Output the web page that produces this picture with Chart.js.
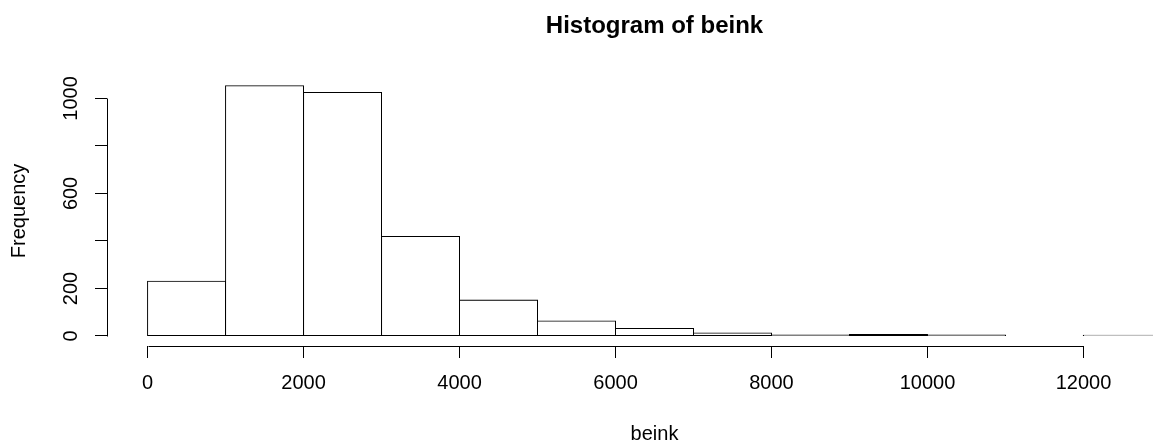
<!DOCTYPE html>
<html>
<head>
<meta charset="utf-8">
<title>Histogram of beink</title>
<script src="https://cdn.jsdelivr.net/npm/chart.js@4.4.1/dist/chart.umd.min.js"></script>
<style>
    html, body { margin: 0; padding: 0; background: #ffffff; overflow: hidden; }
    #wrap { width: 1153px; height: 443px; overflow: hidden; position: relative; }
    #histChart { display: block; }
</style>
</head>
<body>
<div id="wrap">
    <canvas id="histChart" width="1309" height="443"></canvas>
</div>
<script>
// Histogram bins (lower edges, width 1000) and counts
const binStarts = [0, 1000, 2000, 3000, 4000, 5000, 6000, 7000, 8000, 9000, 10000, 11000, 12000];
const binWidth = 1000;
const counts = [230, 1053, 1025, 419, 151, 63, 32, 13, 4, 6, 4, 2, 3];

// Axis ticks and labels
const xTicks = [0, 2000, 4000, 6000, 8000, 10000, 12000];
const xTickLabels = ['0', '2000', '4000', '6000', '8000', '10000', '12000'];
const yTicks = [0, 200, 400, 600, 800, 1000];
const yTickLabels = ['0', '200', '', '600', '', '1000'];

const chartTitle = 'Histogram of beink';
const xTitle = 'beink';
const yTitle = 'Frequency';

const fontFamily = '"Liberation Sans", Arial, Helvetica, sans-serif';

// R style ranges: 4% extra on each side
const xLow = binStarts[0];
const xHigh = binStarts[binStarts.length - 1] + binWidth;
const xPad = (xHigh - xLow) * 0.04;
const yHigh = Math.max(...counts);
const yPad = yHigh * 0.04;

// Axis lines only between first and last tick, like R's axis()
const rAxisLines = {
    id: 'rAxisLines',
    afterDraw(chart) {
        const ctx = chart.ctx;
        const x = chart.scales.x;
        const y = chart.scales.y;
        const area = chart.chartArea;
        ctx.save();
        ctx.strokeStyle = '#000000';
        ctx.lineWidth = 1;
        ctx.beginPath();
        ctx.moveTo(Math.round(x.getPixelForValue(xTicks[0])) + 0.5, Math.round(area.bottom) + 0.5);
        ctx.lineTo(Math.round(x.getPixelForValue(xTicks[xTicks.length - 1])) + 0.5, Math.round(area.bottom) + 0.5);
        ctx.moveTo(Math.round(area.left) + 0.5, Math.round(y.getPixelForValue(yTicks[0])) + 0.5);
        ctx.lineTo(Math.round(area.left) + 0.5, Math.round(y.getPixelForValue(yTicks[yTicks.length - 1])) + 0.5);
        ctx.stroke();
        ctx.restore();
    }
};

const createHistChart = () => {
    const ctx = document.getElementById('histChart').getContext('2d');

    // Bars centred in their bins
    const barData = [];
    for (let i = 0; i < binStarts.length; i++) {
        barData.push({ x: binStarts[i] + binWidth / 2, y: counts[i] });
    }

    new Chart(ctx, {
        type: 'bar',
        data: {
            datasets: [{
                data: barData,
                backgroundColor: 'rgba(255,255,255,0)',
                borderColor: '#000000',
                // thin inset border + inflate gives a 1px outline centred on the bin edge
                borderWidth: 0.01,
                inflateAmount: 0.5,
                borderSkipped: false,
                barPercentage: 1,
                categoryPercentage: 1,
                grouped: false
            }]
        },
        options: {
            responsive: false,
            animation: false,
            devicePixelRatio: 1,
            layout: {
                padding: { left: 0, right: 107, top: 0, bottom: 0 }
            },
            plugins: {
                legend: { display: false },
                tooltip: { enabled: false },
                title: {
                    display: true,
                    text: chartTitle,
                    fullSize: false,
                    color: '#000000',
                    font: { family: fontFamily, size: 24, weight: 'bold' },
                    padding: { top: 12, bottom: 35 }
                }
            },
            scales: {
                x: {
                    type: 'linear',
                    offset: false,
                    min: xLow - xPad,
                    max: xHigh + xPad,
                    afterBuildTicks: (axis) => {
                        axis.ticks = xTicks.map(v => ({ value: v }));
                    },
                    afterFit: (axis) => { axis.height = 97; },
                    border: { display: false },
                    grid: {
                        offset: false,
                        drawOnChartArea: false,
                        drawTicks: true,
                        tickLength: 12,
                        color: '#000000',
                        lineWidth: 1
                    },
                    ticks: {
                        autoSkip: false,
                        maxRotation: 0,
                        minRotation: 0,
                        padding: 13,
                        color: '#000000',
                        font: { family: fontFamily, size: 20 },
                        callback: (value, index) => xTickLabels[index]
                    },
                    title: {
                        display: true,
                        text: xTitle,
                        color: '#000000',
                        font: { family: fontFamily, size: 20 },
                        padding: { top: 0, bottom: -3 }
                    }
                },
                y: {
                    type: 'linear',
                    min: -yPad,
                    max: yHigh + yPad,
                    afterBuildTicks: (axis) => {
                        axis.ticks = yTicks.map(v => ({ value: v }));
                    },
                    afterFit: (axis) => { axis.width = 107; },
                    border: { display: false },
                    grid: {
                        offset: false,
                        drawOnChartArea: false,
                        drawTicks: true,
                        tickLength: 12,
                        color: '#000000',
                        lineWidth: 1
                    },
                    ticks: {
                        autoSkip: false,
                        minRotation: 90,
                        maxRotation: 90,
                        crossAlign: 'center',
                        padding: 1,
                        color: '#000000',
                        font: { family: fontFamily, size: 20 },
                        callback: (value, index) => yTickLabels[index]
                    },
                    title: {
                        display: true,
                        text: yTitle,
                        color: '#000000',
                        font: { family: fontFamily, size: 20 },
                        padding: { top: 7, bottom: 0 }
                    }
                }
            }
        },
        plugins: [rAxisLines]
    });
}

createHistChart();
</script>
</body>
</html>
